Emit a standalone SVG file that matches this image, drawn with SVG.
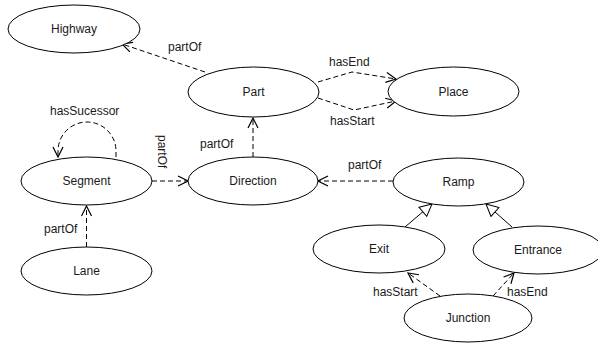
<svg xmlns="http://www.w3.org/2000/svg" width="598" height="345" viewBox="0 0 598 345">
<style>
.n ellipse{fill:#fff;stroke:#000;stroke-width:1}
text{font-family:"Liberation Sans",Arial,sans-serif;font-size:12px;fill:#1a1a1a}
.n text{text-anchor:middle}
.e{fill:none;stroke:#000;stroke-width:1;stroke-dasharray:5,3}
.d{marker-end:url(#open)}
.s{fill:none;stroke:#000;stroke-width:1;marker-end:url(#tri)}
</style>
<defs>
<marker id="open" markerUnits="userSpaceOnUse" viewBox="0 0 12 12" refX="11" refY="6" markerWidth="12" markerHeight="12" orient="auto">
<path d="M1,1 L11,6 L1,11" fill="none" stroke="#000" stroke-width="1.2"/>
</marker>
<marker id="tri" markerUnits="userSpaceOnUse" viewBox="0 0 14 14" refX="13" refY="7" markerWidth="14" markerHeight="14" orient="auto">
<path d="M1,1 L13,7 L1,13 Z" fill="#fff" stroke="#000" stroke-width="1"/>
</marker>
</defs>
<g id="connectors">
<path class="e d" d="M205,72 L122,44"/>
<text x="168" y="51">partOf</text>
<path class="e d" d="M318,82 L352,72 L396,79"/>
<text x="329" y="66">hasEnd</text>
<path class="e d" d="M318,98 L354,110 L396,101"/>
<text x="330" y="125">hasStart</text>
<path class="e d" d="M253,157 L253,118"/>
<text x="200" y="148">partOf</text>
<path class="e d" d="M116,157 L116,151 A29,29 0 0 0 58,151 L58,157"/>
<text x="50" y="115">hasSucessor</text>
<path class="e d" d="M152,181 L188,181"/>
<text transform="translate(158,135) rotate(90)">partOf</text>
<path class="e d" d="M86.5,247 L86.5,206"/>
<text x="44" y="233">partOf</text>
<path class="e d" d="M393,181 L318,181"/>
<text x="348" y="169">partOf</text>
<path class="s" d="M405,227 L432,204"/>
<path class="s" d="M512,227 L486,204"/>
<path class="e d" d="M440,296 L408,273"/>
<text x="373" y="296">hasStart</text>
<path class="e d" d="M493,296 L514,273"/>
<text x="507" y="296">hasEnd</text>
</g>
<g id="Highway" class="n"><ellipse cx="74" cy="29" rx="66" ry="24"/><text x="74" y="33">Highway</text></g>
<g id="Part" class="n"><ellipse cx="253.5" cy="92" rx="65.5" ry="25"/><text x="253.5" y="96">Part</text></g>
<g id="Place" class="n"><ellipse cx="453.5" cy="91.5" rx="65.5" ry="24.5"/><text x="453.5" y="96">Place</text></g>
<g id="Segment" class="n"><ellipse cx="86.5" cy="181" rx="65.5" ry="24"/><text x="86.5" y="185">Segment</text></g>
<g id="Direction" class="n"><ellipse cx="253" cy="181" rx="65" ry="24"/><text x="253" y="185">Direction</text></g>
<g id="Ramp" class="n"><ellipse cx="458.5" cy="182" rx="65.5" ry="24"/><text x="458.5" y="186">Ramp</text></g>
<g id="Lane" class="n"><ellipse cx="86.5" cy="271" rx="65.5" ry="24"/><text x="86.5" y="275">Lane</text></g>
<g id="Exit" class="n"><ellipse cx="379" cy="249" rx="66" ry="24"/><text x="379" y="253">Exit</text></g>
<g id="Entrance" class="n"><ellipse cx="538" cy="250" rx="65" ry="24"/><text x="538" y="254">Entrance</text></g>
<g id="Junction" class="n"><ellipse cx="468" cy="318" rx="64" ry="24"/><text x="468" y="322">Junction</text></g>
</svg>
